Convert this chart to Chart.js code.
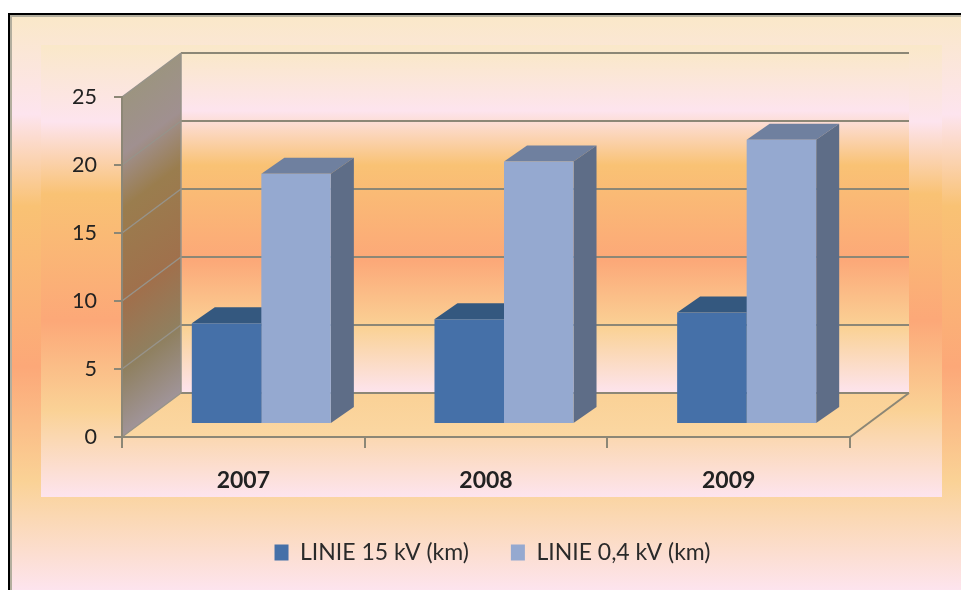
<!DOCTYPE html>
<html>
<head>
<meta charset="utf-8">
<title>LINIE</title>
<script src="https://cdn.jsdelivr.net/npm/chart.js@4"></script>
<style>
    html, body { margin: 0; padding: 0; background: #fff; }
    #wrap { width: 961px; height: 590px; }
</style>
</head>
<body>
<div id="wrap"><canvas id="lineChart" width="961" height="590"></canvas></div>
<script>
// Chart data
const years = ['2007', '2008', '2009'];
const lines15kv = [7.4, 7.7, 8.2];
const lines04kv = [18.4, 19.3, 20.9];
const series15Label = 'LINIE 15 kV (km)';
const series04Label = 'LINIE 0,4 kV (km)';
const yTicks = [0, 5, 10, 15, 20, 25];

// Depth of the 3D box and of the bars, in pixels
const WALL_DX = 59, WALL_DY = 44;
const BAR_SHIFT_X = 18, BAR_SHIFT_Y = 13;
const BAR_DX = 23, BAR_DY = 16;

const FONT = 'Lato, "Open Sans", sans-serif';
const GRID_COLOR = '#8c8776';
const WALL_GRID_COLOR = '#97938a';

// Same five colour bands are used for every background panel
function bands(ctx, x0, y0, x1, y1, colors) {
    const g = ctx.createLinearGradient(x0, y0, x1, y1);
    [0, 0.17, 0.33, 0.61, 0.81, 1].forEach((stop, i) => g.addColorStop(stop, colors[i]));
    return g;
}
const PANEL_COLORS = ['#fae8c9', '#fde4ee', '#f9c274', '#fca878', '#fad296', '#fde4ee'];
const WALL_COLORS = ['#9c9480', '#a09090', '#9a7d4e', '#a0704c', '#8f8060', '#a09498'];

function polygon(ctx, points, fill) {
    ctx.beginPath();
    points.forEach((p, i) => i ? ctx.lineTo(p[0], p[1]) : ctx.moveTo(p[0], p[1]));
    ctx.closePath();
    ctx.fillStyle = fill;
    ctx.fill();
}

function segment(ctx, x0, y0, x1, y1, color, width) {
    ctx.beginPath();
    ctx.moveTo(x0, y0);
    ctx.lineTo(x1, y1);
    ctx.strokeStyle = color;
    ctx.lineWidth = width;
    ctx.stroke();
}

// Frame, gradient panels, side wall, floor and back wall grid
const box3d = {
    id: 'box3d',
    beforeDraw(chart) {
        const { ctx, chartArea, width, height } = chart;
        const { left, right, top, bottom } = chartArea;
        const yScale = chart.scales.y;

        ctx.save();
        ctx.fillStyle = '#fff';
        ctx.fillRect(0, 0, width, height);
        ctx.fillStyle = '#000';
        ctx.fillRect(8, 13, width - 8, height - 13);
        ctx.fillStyle = '#b3ae9e';
        ctx.fillRect(10, 15, width - 10, height - 15);

        ctx.fillStyle = bands(ctx, 0, 17, 0, height, PANEL_COLORS);
        ctx.fillRect(12, 17, width - 12, height - 17);
        ctx.fillStyle = bands(ctx, 0, 45, 0, 497, PANEL_COLORS);
        ctx.fillRect(41, 45, 901, 452);

        // Back wall
        ctx.fillStyle = bands(ctx, 0, top - WALL_DY, 0, bottom - WALL_DY, PANEL_COLORS);
        ctx.fillRect(left + WALL_DX, top - WALL_DY, right - left, bottom - top);

        // Floor
        const floor = ctx.createLinearGradient(0, bottom - WALL_DY, 0, bottom);
        floor.addColorStop(0, '#fad196');
        floor.addColorStop(1, '#fbd7a2');
        polygon(ctx, [
            [left, bottom], [left + WALL_DX, bottom - WALL_DY],
            [right + WALL_DX, bottom - WALL_DY], [right, bottom]
        ], floor);

        // Side wall
        polygon(ctx, [
            [left, top], [left + WALL_DX, top - WALL_DY],
            [left + WALL_DX, bottom - WALL_DY], [left, bottom]
        ], bands(ctx, left, top, left + 163, top + 217, WALL_COLORS));

        // Grid lines run across the side wall and then along the back wall
        yScale.ticks.forEach(tick => {
            const y = yScale.getPixelForValue(tick.value);
            segment(ctx, left, y, left + WALL_DX, y - WALL_DY, WALL_GRID_COLOR, 1.5);
            segment(ctx, left + WALL_DX, y - WALL_DY, right + WALL_DX, y - WALL_DY, GRID_COLOR, 2);
        });
        segment(ctx, left + WALL_DX, top - WALL_DY, left + WALL_DX, bottom - WALL_DY, WALL_GRID_COLOR, 1.5);
        segment(ctx, right, bottom, right + WALL_DX, bottom - WALL_DY, GRID_COLOR, 2);
        ctx.restore();
    },
    // Bars stand part way into the box, their top and side faces go in first
    beforeDatasetsDraw(chart) {
        const { ctx } = chart;
        ctx.save();
        ctx.translate(BAR_SHIFT_X, -BAR_SHIFT_Y);
        chart.data.datasets.forEach((dataset, index) => {
            chart.getDatasetMeta(index).data.forEach(bar => {
                const { x, y, base, width } = bar.getProps(['x', 'y', 'base', 'width'], true);
                const l = x - width / 2;
                const r = x + width / 2;
                polygon(ctx, [[l, y], [l + BAR_DX, y - BAR_DY], [r + BAR_DX, y - BAR_DY], [r, y]], dataset.topColor);
                polygon(ctx, [[r, y], [r + BAR_DX, y - BAR_DY], [r + BAR_DX, base - BAR_DY], [r, base]], dataset.sideColor);
            });
        });
    },
    afterDatasetsDraw(chart) {
        chart.ctx.restore();
    }
};

new Chart(document.getElementById('lineChart'), {
    type: 'bar',
    data: {
        labels: years,
        datasets: [
            {
                label: series15Label,
                data: lines15kv,
                backgroundColor: '#4570a8',
                topColor: '#34587f',
                sideColor: '#34587f',
                barPercentage: 1,
                categoryPercentage: 0.573
            },
            {
                label: series04Label,
                data: lines04kv,
                backgroundColor: '#95a9d0',
                topColor: '#6f809f',
                sideColor: '#5e6d87',
                barPercentage: 1,
                categoryPercentage: 0.573
            }
        ]
    },
    options: {
        responsive: false,
        animation: false,
        layout: { padding: { left: 24, right: 0, top: 97, bottom: 16 } },
        scales: {
            x: {
                grid: { drawOnChartArea: false, offset: true, tickLength: 11, color: GRID_COLOR, lineWidth: 2 },
                border: { color: GRID_COLOR, width: 2 },
                ticks: { padding: 19, color: '#222', font: { family: FONT, size: 23, weight: 'bold' }, maxRotation: 0 },
                afterFit: scale => { scale.height = 62; }
            },
            y: {
                min: 0,
                max: 25,
                afterBuildTicks: scale => { scale.ticks = yTicks.map(value => ({ value })); },
                grid: { drawOnChartArea: false, tickLength: 8, color: GRID_COLOR, lineWidth: 2 },
                border: { color: GRID_COLOR, width: 2 },
                ticks: { padding: 17, color: '#222', font: { family: FONT, size: 21.5 } },
                afterFit: scale => { scale.width = 98; }
            },
            // Empty axis that reserves the room the box depth needs on the right
            depth: {
                position: 'right',
                grid: { display: false },
                border: { display: false },
                ticks: { display: false },
                afterFit: scale => { scale.width = 111; }
            }
        },
        plugins: {
            legend: {
                position: 'bottom',
                labels: {
                    boxWidth: 14,
                    boxHeight: 16,
                    padding: 42,
                    color: '#2a2a2a',
                    font: { family: FONT, size: 23 }
                }
            },
            tooltip: { enabled: false }
        }
    },
    plugins: [box3d]
});
</script>
</body>
</html>
